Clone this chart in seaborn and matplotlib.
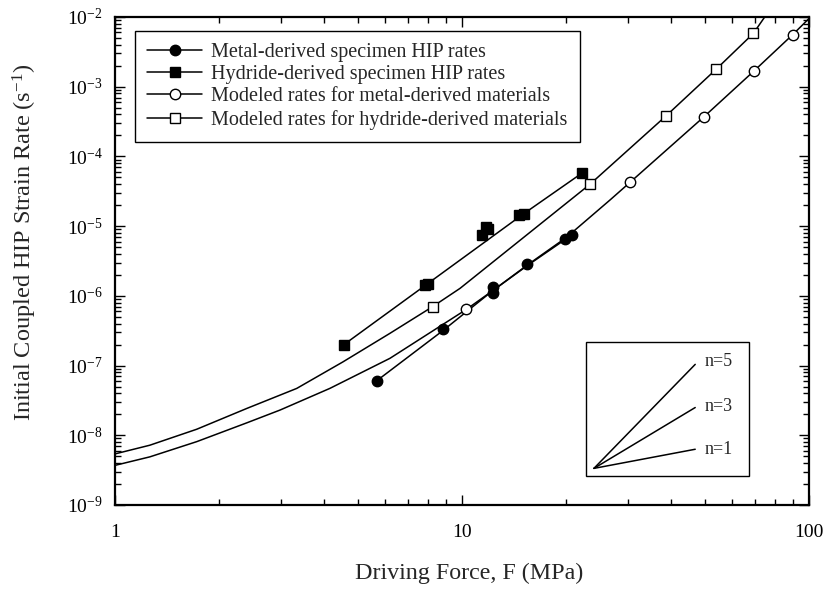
import matplotlib
matplotlib.use("Agg")
import matplotlib.pyplot as plt
import seaborn as sns
import numpy as np
import pandas as pd
from matplotlib.lines import Line2D
from matplotlib.patches import Rectangle
from matplotlib.ticker import LogLocator, NullFormatter

# measured specimen rates
metal_F = [5.68, 8.83, 12.3, 12.3, 15.4, 19.8, 20.7]
metal_rate = [6.05e-8, 3.3e-7, 1.1e-6, 1.35e-6, 2.86e-6, 6.5e-6, 7.45e-6]
metal_fit_F = [5.68, 8.83, 12.3, 15.4, 20.7]
metal_fit_rate = [6.05e-8, 3.2e-7, 1.2e-6, 2.7e-6, 7.45e-6]

hydride_F = [4.57, 7.8, 8.0, 11.4, 11.7, 11.9, 14.6, 15.1, 22.1]
hydride_rate = [2.0e-7, 1.45e-6, 1.5e-6, 7.4e-6, 9.6e-6, 9.0e-6, 1.45e-5, 1.5e-5, 5.7e-5]
hydride_fit_F = [4.57, 7.94, 14.9, 22.1]
hydride_fit_rate = [2.0e-7, 1.48e-6, 1.45e-5, 5.7e-5]

# modeled rates (curve + marked points)
model_metal_curve_F = [1, 1.26, 1.72, 2.4, 2.99, 4.16, 6.2, 10.3, 12.3, 15.4, 20.0, 26.7, 30.5, 49.8, 69.4, 89.8, 100]
model_metal_curve_rate = [3.7e-9, 4.9e-9, 8.1e-9, 1.51e-8, 2.3e-8, 4.7e-8, 1.27e-7, 6.4e-7, 1.2e-6,
                          2.75e-6, 6.9e-6, 2.37e-5, 4.25e-5, 3.7e-4, 1.68e-3, 5.6e-3, 9.5e-3]
model_metal_F = [10.3, 30.5, 49.8, 69.4, 89.8]
model_metal_rate = [6.4e-7, 4.25e-5, 3.7e-4, 1.68e-3, 5.6e-3]

model_hydride_curve_F = [1, 1.26, 1.72, 2.4, 3.34, 4.54, 6.2, 8.23, 9.87, 23.4, 38.7, 54.0, 69.1, 76]
model_hydride_curve_rate = [5.4e-9, 7.2e-9, 1.22e-8, 2.43e-8, 4.7e-8, 1.13e-7, 2.9e-7, 7.0e-7, 1.28e-6,
                            4.0e-5, 3.8e-4, 1.78e-3, 5.8e-3, 1.15e-2]
model_hydride_F = [8.23, 23.4, 38.7, 54.0, 69.1]
model_hydride_rate = [7.0e-7, 4.0e-5, 3.8e-4, 1.78e-3, 5.8e-3]

# slope key (n = stress exponent)
slope_labels = ["n=5", "n=3", "n=1"]
slope_F = [24, 47]
slope_start = 3.35e-9
slope_end = [1.04e-7, 2.5e-8, 6.3e-9]
slope_label_rate = [1.16e-7, 2.6e-8, 6.3e-9]

sns.set_theme(style="ticks")
plt.rcParams['font.family'] = ['Liberation Serif', 'DejaVu Serif']
plt.rcParams['mathtext.fontset'] = 'custom'
plt.rcParams['mathtext.rm'] = 'Liberation Serif'
plt.rcParams['mathtext.default'] = 'regular'

fig = plt.figure(figsize=(8.25, 5.92), dpi=100)
ax = fig.add_axes([0.1394, 0.147, 0.8412, 0.8243])

lw = 1.1
# model curves
sns.lineplot(x=model_metal_curve_F, y=model_metal_curve_rate, ax=ax, color='black', lw=lw, sort=False)
sns.lineplot(x=model_hydride_curve_F, y=model_hydride_curve_rate, ax=ax, color='black', lw=lw, sort=False)
# specimen fit lines
sns.lineplot(x=metal_fit_F, y=metal_fit_rate, ax=ax, color='black', lw=lw, sort=False)
sns.lineplot(x=hydride_fit_F, y=hydride_fit_rate, ax=ax, color='black', lw=lw, sort=False)

# markers
ax.plot(model_metal_F, model_metal_rate, 'o', ms=7.5, mfc='white', mec='black', mew=1.0, zorder=4)
ax.plot(model_hydride_F, model_hydride_rate, 's', ms=7.5, mfc='white', mec='black', mew=1.0, zorder=4)
ax.plot(metal_F, metal_rate, 'o', ms=7.5, color='black', zorder=5)
ax.plot(hydride_F, hydride_rate, 's', ms=7.5, color='black', zorder=5)

ax.set_xscale('log')
ax.set_yscale('log')
ax.set_xlim(1, 100)
ax.set_ylim(1e-9, 1e-2)

ax.set_xticks([1, 10, 100])
ax.set_xticklabels(["1", "10", "100"])
ax.xaxis.set_minor_locator(LogLocator(base=10, subs=np.arange(2, 10)))
ax.xaxis.set_minor_formatter(NullFormatter())
ax.yaxis.set_major_locator(LogLocator(base=10, numticks=20))
ax.yaxis.set_minor_locator(LogLocator(base=10, subs=np.arange(2, 10), numticks=20))
ax.yaxis.set_minor_formatter(NullFormatter())

ax.tick_params(which='both', direction='in', top=True, right=True, width=1.0, colors='black')
ax.tick_params(which='major', length=7)
ax.tick_params(which='minor', length=4)
ax.tick_params(axis='x', which='major', labelsize=14, pad=14)
ax.tick_params(axis='y', which='major', labelsize=14, pad=9)
for s in ax.spines.values():
    s.set_linewidth(1.6)
    s.set_color('black')

ax.set_xlabel("Driving Force, F (MPa)", fontsize=17.3)
ax.set_ylabel("Initial Coupled HIP Strain Rate (s$^{-1}$)", fontsize=17.5)
ax.xaxis.set_label_coords(0.510, -0.118)
ax.yaxis.set_label_coords(-0.11, 0.539)

# slope key
ax.add_patch(Rectangle((0.678, 0.060), 0.236, 0.273, transform=ax.transAxes,
                       fill=False, edgecolor='black', lw=1.0, zorder=3))
for lab, end, ly in zip(slope_labels, slope_end, slope_label_rate):
    ax.plot(slope_F, [slope_start, end], color='black', lw=lw)
    ax.text(50, ly, lab, fontsize=13, va='center', ha='left')

handles = [
    Line2D([], [], color='black', lw=lw, marker='o', ms=7.5),
    Line2D([], [], color='black', lw=lw, marker='s', ms=7.5),
    Line2D([], [], color='black', lw=lw, marker='o', ms=7.5, mfc='white', mec='black'),
    Line2D([], [], color='black', lw=lw, marker='s', ms=7.5, mfc='white', mec='black'),
]
labels = ["Metal-derived specimen HIP rates",
          "Hydride-derived specimen HIP rates",
          "Modeled rates for metal-derived materials",
          "Modeled rates for hydride-derived materials"]
leg = ax.legend(handles, labels, loc='upper left', bbox_to_anchor=(0.0288, 0.972),
                borderaxespad=0, fontsize=14.5, frameon=True, fancybox=False,
                framealpha=1, edgecolor='black', handlelength=2.75, handletextpad=0.44,
                labelspacing=0.16, borderpad=0.6)
leg.get_frame().set_linewidth(1.0)

plt.savefig("out.png", dpi=100)
